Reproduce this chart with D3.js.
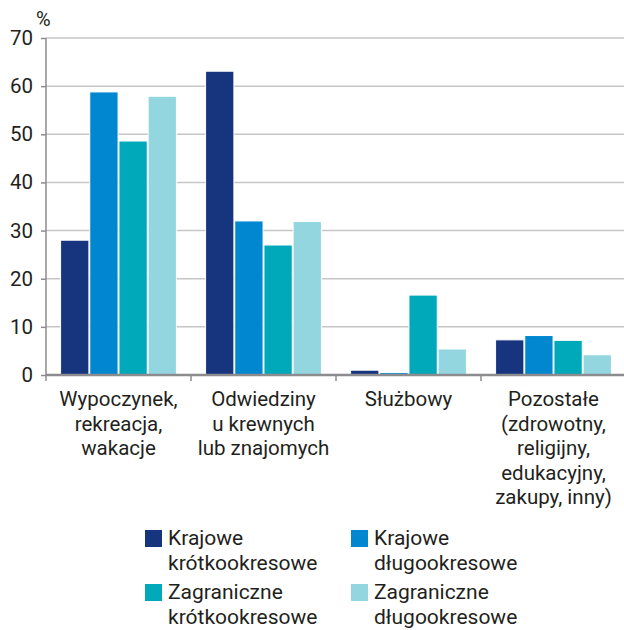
<!DOCTYPE html>
<html>
<head>
<meta charset="utf-8">
<script src="https://cdn.jsdelivr.net/npm/d3@7"></script>
<style>
  body { margin: 0; background: #fff; }
  text { font-family: Roboto, "Noto Sans", sans-serif; fill: #231f20; }
</style>
</head>
<body>
<div id="chart"></div>
<script>
const categories = [
  ["Wypoczynek,", "rekreacja,", "wakacje"],
  ["Odwiedziny", "u krewnych", "lub znajomych"],
  ["Służbowy"],
  ["Pozostałe", "(zdrowotny,", "religijny,", "edukacyjny,", "zakupy, inny)"]
];
const seriesNames = [
  ["Krajowe", "krótkookresowe"],
  ["Krajowe", "długookresowe"],
  ["Zagraniczne", "krótkookresowe"],
  ["Zagraniczne", "długookresowe"]
];
const krajoweKrotko = [28.0, 63.1, 1.0, 7.3];
const krajoweDlugo = [58.8, 32.0, 0.5, 8.2];
const zagraniczneKrotko = [48.6, 27.0, 16.6, 7.2];
const zagraniczneDlugo = [57.9, 31.9, 5.4, 4.2];
const yTicks = [0, 10, 20, 30, 40, 50, 60, 70];
const colors = ["#17347f", "#0087cf", "#00a9b9", "#94d6e0"];

const series = [krajoweKrotko, krajoweDlugo, zagraniczneKrotko, zagraniczneDlugo];
const width = 624, height = 630;
const margin = { left: 46, right: 0, top: 38, bottom: 255 };

const svg = d3.select("#chart").append("svg")
  .attr("width", width).attr("height", height);

const xScale = d3.scaleBand(d3.range(categories.length), [margin.left, 626]).paddingInner(0).paddingOuter(0);
const xzScale = d3.scaleBand(d3.range(series.length), [0, xScale.bandwidth()]).paddingOuter(0.5).paddingInner(0.03);
const yScale = d3.scaleLinear([0, 70], [375, margin.top]);

// Gridlines
svg.append("g")
   .selectAll("line")
   .data(yTicks.filter(d => d > 0))
   .join("line")
   .attr("x1", margin.left).attr("x2", width)
   .attr("y1", d => yScale(d)).attr("y2", d => yScale(d))
   .attr("stroke", "#c6c6c8").attr("stroke-width", 1.5);

// Bars
svg.append("g")
   .selectAll("g")
   .data(series)
   .join("g")
   .attr("fill", (d, s) => colors[s])
   .selectAll("rect")
   .data((d, s) => d.map((v, i) => ({ v, i, s })))
   .join("rect")
   .attr("x", d => xScale(d.i) + xzScale(d.s))
   .attr("y", d => yScale(d.v))
   .attr("width", xzScale.bandwidth())
   .attr("height", d => yScale(0) - yScale(d.v))
   .attr("stroke", "#fff").attr("stroke-width", 1);

// Y axis
const yAxis = d3.axisLeft(yScale).tickValues(yTicks).tickSize(5).tickPadding(8);
svg.append("g")
   .attr("transform", "translate(" + margin.left + ",0)")
   .call(yAxis)
   .call(g => g.select(".domain").attr("stroke", "#8c8c8e").attr("stroke-width", 1.5).attr("d", "M0," + yScale(70) + "V" + yScale(0)))
   .call(g => g.selectAll(".tick line").attr("stroke", "#8c8c8e").attr("stroke-width", 1.5))
   .call(g => g.selectAll(".tick text").style("font-size", "20.5px").attr("fill", "#231f20"));

svg.append("text")
   .attr("x", 36).attr("y", 26)
   .style("font-size", "20px")
   .text("%");

// X axis
const xAxis = d3.axisBottom(xScale).tickSize(0).tickFormat("");
svg.append("g")
   .attr("transform", "translate(0," + yScale(0) + ")")
   .call(xAxis)
   .call(g => g.select(".domain").attr("stroke", "#8c8c8e").attr("stroke-width", 2.5).attr("d", "M" + margin.left + ",0H" + width))
   .call(g => g.selectAll(".tick").remove())
   .call(g => g.selectAll(".boundary")
               .data(d3.range(categories.length))
               .join("line")
               .attr("class", "boundary")
               .attr("x1", i => xScale(i)).attr("x2", i => xScale(i))
               .attr("y1", 0).attr("y2", 6)
               .attr("stroke", "#8c8c8e").attr("stroke-width", 1.5));

// Category labels
const catLabels = svg.append("g")
   .selectAll("text")
   .data(categories)
   .join("text")
   .attr("x", (d, i) => xScale(i) + xScale.bandwidth() / 2)
   .attr("y", 406)
   .attr("text-anchor", "middle")
   .style("font-size", "20.5px");
catLabels.selectAll("tspan")
   .data(d => d)
   .join("tspan")
   .attr("x", function () { return this.parentNode.getAttribute("x"); })
   .attr("dy", (d, i) => i === 0 ? 0 : 24.5)
   .text(d => d);

// Legend
const legendPos = [[145, 530], [351, 530], [145, 584], [351, 584]];
const legend = svg.append("g")
   .selectAll("g")
   .data(seriesNames)
   .join("g")
   .attr("transform", (d, i) => "translate(" + legendPos[i][0] + "," + legendPos[i][1] + ")");
legend.append("rect")
   .attr("width", 17).attr("height", 17)
   .attr("fill", (d, i) => colors[i]);
legend.append("text")
   .attr("x", 23).attr("y", 15)
   .style("font-size", "21px")
   .selectAll("tspan")
   .data(d => d)
   .join("tspan")
   .attr("x", 23)
   .attr("dy", (d, i) => i === 0 ? 0 : 25)
   .text(d => d);
</script>
</body>
</html>
